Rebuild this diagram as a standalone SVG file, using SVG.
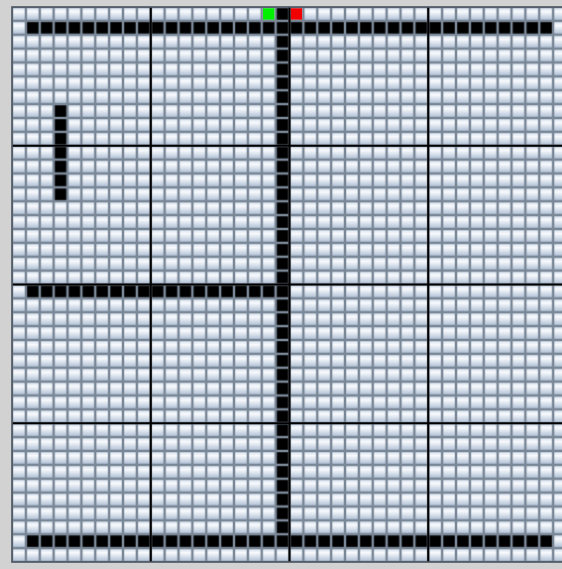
<svg xmlns="http://www.w3.org/2000/svg" width="562" height="569" viewBox="0 0 562 569">
<defs>
<linearGradient id="g" x1="0" y1="0" x2="0" y2="1">
<stop offset="0" stop-color="#d9e3ef"/>
<stop offset="0.3" stop-color="#f8fafd"/>
<stop offset="1" stop-color="#b3c3d7"/>
</linearGradient>
<pattern id="cell" patternUnits="userSpaceOnUse" width="1" height="1">
<rect width="1" height="1" fill="#7a8797"/>
<rect x="0.09" y="0.09" width="0.82" height="0.82" fill="url(#g)"/>
</pattern>
<pattern id="blk" patternUnits="userSpaceOnUse" width="1" height="1">
<rect width="1" height="1" fill="#7a8797"/>
<rect x="0.09" y="0.09" width="0.82" height="0.82" fill="#000"/>
</pattern>
<style>
.b{fill:url(#blk)}
.major{stroke:#000;stroke-width:0.15}
</style>
</defs>
<rect width="562" height="569" fill="#d2d2d2"/>
<g id="board" transform="translate(12 7) scale(13.875)">
<rect width="40" height="40" fill="url(#cell)"/>
<g id="walls">
<rect class="b" x="1" y="1" width="38" height="1"/>
<rect class="b" x="19" y="0" width="1" height="39"/>
<rect class="b" x="1" y="20" width="18" height="1"/>
<rect class="b" x="3" y="7" width="1" height="7"/>
<rect class="b" x="1" y="38" width="38" height="1"/>
</g>
<g id="endpoints">
<rect x="18.09" y="0.09" width="0.82" height="0.82" fill="#00f000"/>
<rect x="20.09" y="0.09" width="0.82" height="0.82" fill="#f00000"/>
</g>
<g id="majorlines" class="major">
<line x1="10" y1="0" x2="10" y2="40"/>
<line x1="20" y1="0" x2="20" y2="40"/>
<line x1="30" y1="0" x2="30" y2="40"/>
<line x1="0" y1="10" x2="40" y2="10"/>
<line x1="0" y1="20" x2="40" y2="20"/>
<line x1="0" y1="30" x2="40" y2="30"/>
</g>
<rect width="40" height="40" fill="none" stroke="#4e5864" stroke-width="0.12"/>
</g>
</svg>
